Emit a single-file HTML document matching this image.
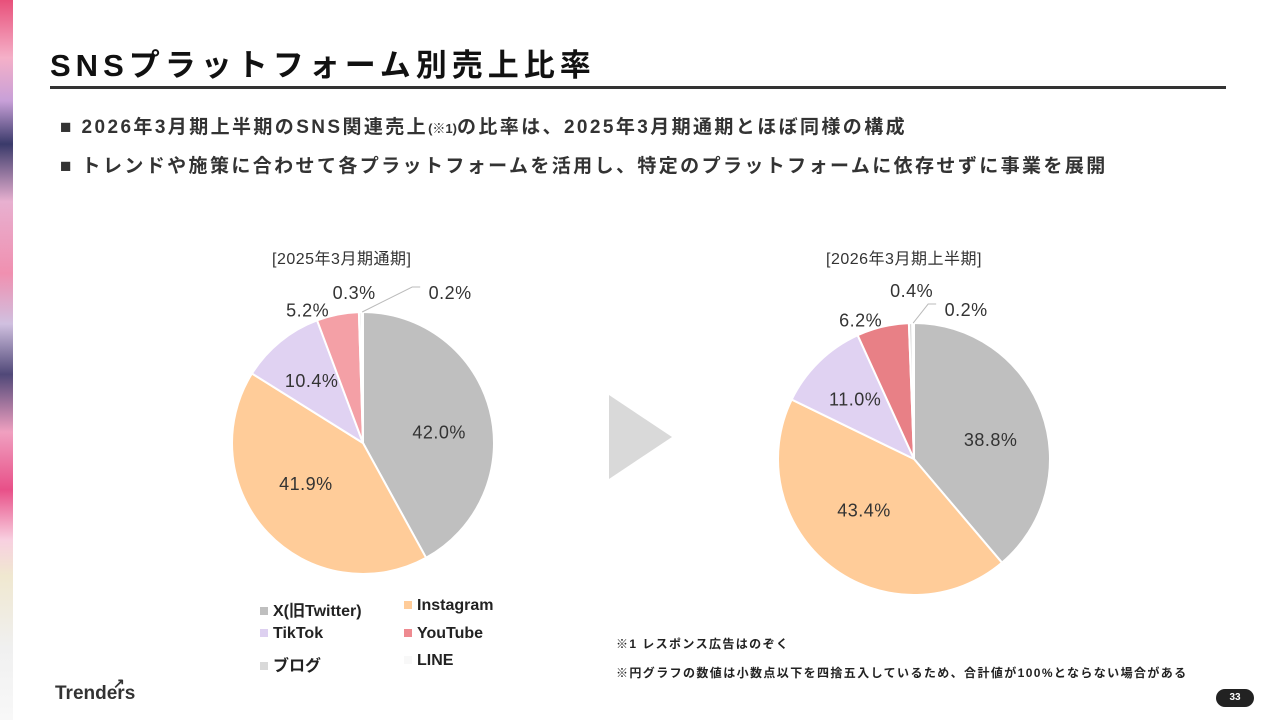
<!DOCTYPE html>
<html><head><meta charset="utf-8"><style>
body{margin:0;width:1280px;height:720px;background:#fff;position:relative;overflow:hidden;font-family:"Liberation Sans","Noto Sans CJK JP",sans-serif;color:#222}
.strip{position:absolute;left:0;top:0;width:13px;height:720px;background:linear-gradient(180deg,#e8507a 0%,#f5b0c8 8%,#c8a0d8 14%,#3a3a6a 20%,#e8b0d0 28%,#f090b0 38%,#d0c0e0 45%,#504878 52%,#f0a0c0 60%,#e85088 68%,#f8d0e0 75%,#f0e8d0 80%,#f0f0f0 90%,#f8f8f8 100%)}
.title{position:absolute;left:50px;top:40px;font-size:31px;font-weight:bold;letter-spacing:5px;color:#111}
.rule{position:absolute;left:50px;top:86px;width:1176px;height:3px;background:#333}
.b{position:absolute;left:60px;font-size:19px;font-weight:bold;color:#333;letter-spacing:2.4px;white-space:nowrap}
.ct{position:absolute;font-size:16px;color:#333;letter-spacing:0.5px}
.leg{position:absolute;font-size:16px;font-weight:bold;color:#222}
.leg span{display:inline-block;width:8px;height:8px;margin-right:5px;vertical-align:1px}
.note{position:absolute;left:616px;font-size:12px;font-weight:bold;color:#222;letter-spacing:1.4px;white-space:nowrap}
</style></head><body>
<div class="strip"></div>
<div class="title">SNSプラットフォーム別売上比率</div>
<div class="rule"></div>
<div class="b" style="top:112px">■ 2026年3月期上半期のSNS関連売上<span style="font-size:13px;letter-spacing:0">(※1)</span>の比率は、2025年3月期通期とほぼ同様の構成</div>
<div class="b" style="top:151px">■ トレンドや施策に合わせて各プラットフォームを活用し、特定のプラットフォームに依存せずに事業を展開</div>
<div class="ct" style="left:272px;top:245px">[2025年3月期通期]</div>
<div class="ct" style="left:826px;top:245px">[2026年3月期上半期]</div>
<svg id="svg" width="1280" height="720" style="position:absolute;left:0;top:0">
<polygon points="609,395 672,437 609,479" fill="#d9d9d9"></polygon>
</svg>
<div class="leg" style="left:260px;top:597px"><span style="background:#bfbfbf"></span>X(旧Twitter)</div>
<div class="leg" style="left:404px;top:597px"><span style="background:#ffcc99"></span>Instagram</div>
<div class="leg" style="left:260px;top:625px"><span style="background:#ddd0f0"></span>TikTok</div>
<div class="leg" style="left:404px;top:625px"><span style="background:#ee8a90"></span>YouTube</div>
<div class="leg" style="left:260px;top:652px"><span style="background:#d9d9d9"></span>ブログ</div>
<div class="leg" style="left:404px;top:652px"><span style="background:#f8f8f8"></span>LINE</div>
<div class="note" style="top:635px">※1 レスポンス広告はのぞく</div>
<div class="note" style="top:664px">※円グラフの数値は小数点以下を四捨五入しているため、合計値が100%とならない場合がある</div>
<div style="position:absolute;left:55px;top:683px;font-size:19px;font-weight:bold;color:#333;font-family:'Liberation Sans',sans-serif">Trenders<span style="position:absolute;left:58px;top:-8px;font-size:14px">↗</span></div>
<div style="position:absolute;left:1216px;top:689px;width:38px;height:18px;border-radius:9px;background:#222;color:#fff;font-size:10px;font-weight:bold;text-align:center;line-height:18px">33</div>
<script>
const categories=["X(旧Twitter)","Instagram","TikTok","YouTube","ブログ","LINE"];
const values2025=[42.0,41.9,10.4,5.2,0.3,0.2];
const values2026=[38.8,43.4,11.0,6.2,0.4,0.2];
const colors2025=["#bfbfbf","#ffcc99","#e0d2f2","#f4a0a6","#d9d9d9","#f2f2f2"];
const colors2026=["#bfbfbf","#ffcc99","#e0d2f2","#e88086","#d9d9d9","#f2f2f2"];
const svg=document.getElementById('svg');
const NS="http://www.w3.org/2000/svg";
function pie(cx,cy,r,vals,cols,key,outs){
  const total=vals.reduce((a,b)=>a+b,0);
  let a0=0;
  vals.forEach((v,i)=>{
    const a1=a0+v/total*Math.PI*2;
    const p=(a)=>[cx+r*Math.sin(a),cy-r*Math.cos(a)];
    const [x0,y0]=p(a0),[x1,y1]=p(a1);
    const path=document.createElementNS(NS,'path');
    path.setAttribute('d',`M${cx},${cy}L${x0},${y0}A${r},${r} 0 ${a1-a0>Math.PI?1:0} 1 ${x1},${y1}Z`);
    path.setAttribute('fill',cols[i]);path.setAttribute('stroke','#fff');path.setAttribute('stroke-width','2');
    
    
    svg.appendChild(path);
    const m=(a0+a1)/2;
    let lx,ly;
    if(v>8){const f=v>30?0.6:0.62;lx=cx+r*f*Math.sin(m);ly=cy-r*f*Math.cos(m)+(i===0?8:(i===1?-14:0));}
    else{const o=outs[i-3];lx=cx+r*Math.sin(m)+o[0];ly=cy-r*Math.cos(m)+o[1];
      if(o[2]){const ln=document.createElementNS(NS,'polyline');
        const sx=cx+r*Math.sin(m),sy=cy-r*Math.cos(m);
        ln.setAttribute('points',`${sx},${sy} ${lx-38},${ly-5} ${lx-30},${ly-5}`);
        ln.setAttribute('fill','none');ln.setAttribute('stroke','#bbb');
        
        
        svg.appendChild(ln);}}
    const t=document.createElementNS(NS,'text');
    t.setAttribute('x',lx);t.setAttribute('y',ly+7);t.setAttribute('text-anchor','middle');
    t.setAttribute('font-size','18');t.setAttribute('fill','#333');t.setAttribute('letter-spacing','0.5');
    t.setAttribute('font-family','Liberation Sans, sans-serif');
    t.textContent=v.toFixed(1)+'%';
    
    
    svg.appendChild(t);
    a0=a1;
  });
}
pie(363,443,131,values2025,colors2025,'2025',[[-30,-5,0],[-6,-20,0],[88,-20,1]]);
pie(914,459,136,values2026,colors2026,'2026',[[-22,-7,0],[1,-33,0],[53,-14,1]]);
</script>
</body></html>
